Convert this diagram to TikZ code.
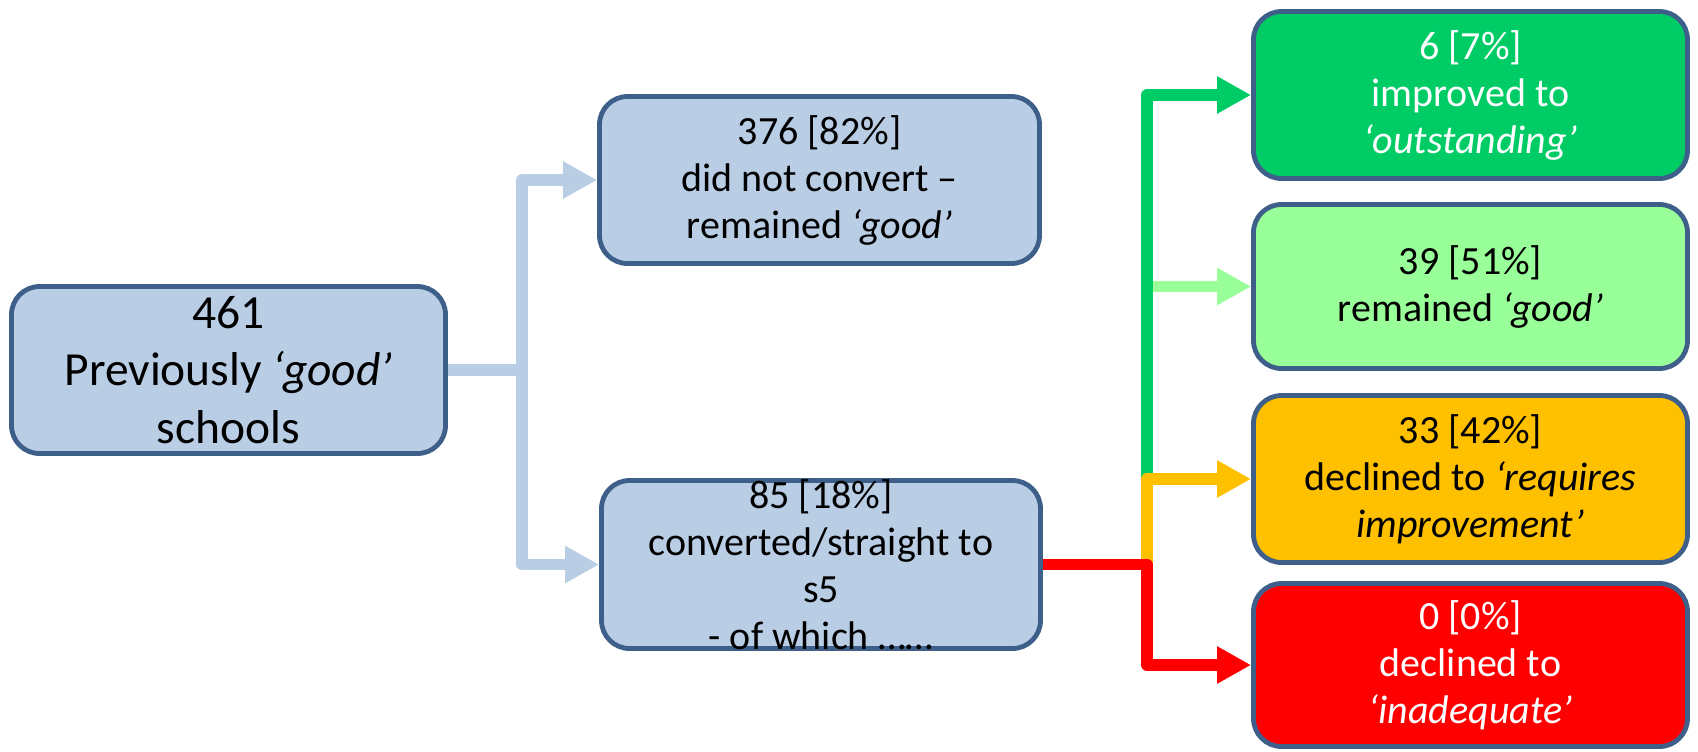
\documentclass[tikz,border=0pt]{standalone}
\usepackage{fontspec}
\setmainfont{Carlito}
\usetikzlibrary{arrows.meta}
\definecolor{bfill}{HTML}{B9CDE5}
\definecolor{bdraw}{HTML}{3E5F8A}
\definecolor{dgreen}{HTML}{00CC66}
\definecolor{lgreen}{HTML}{99FF99}
\definecolor{amber}{HTML}{FFC000}
\definecolor{rred}{HTML}{FF0000}
\begin{document}
\begin{tikzpicture}[x=0.5pt,y=-0.5pt,
  box/.style={draw=bdraw, line width=2.4pt, rounded corners=14pt, minimum width=217pt, minimum height=83.5pt, inner sep=0pt},
  txt/.style={align=center, font=\fontsize{20pt}{23.5pt}\selectfont, inner sep=0pt},
  bigtxt/.style={align=center, font=\fontsize{23.75pt}{28.75pt}\selectfont, inner sep=0pt},
  wire/.style={line width=5.75pt, line join=round},
  conn/.style={wire, -{Triangle[length=17pt,width=17.5pt]}}]
\useasboundingbox (0,0) rectangle (1698,751);

% boxes
\node[box, fill=bfill] (a) at (228.5,370) {};
\node[box, fill=bfill, minimum width=220pt] (b1) at (819.5,180) {};
\node[box, fill=bfill, minimum width=219.5pt, minimum height=84pt] (b2) at (821,564.5) {};
\node[box, fill=dgreen] (c1) at (1470.5,95) {};
\node[box, fill=lgreen, minimum height=82pt] (c2) at (1470.5,286.5) {};
\node[box, fill=amber] (c3) at (1470.5,479) {};
\node[box, fill=rred, minimum height=81.5pt] (c4) at (1470.5,665) {};

% texts
\node[bigtxt] (ta) at (a.center) {461\\Previously \textit{‘good’}\\schools};
\node[txt] (tb1) at (b1.center) {376 [82\%]\\did not convert –\\remained \textit{‘good’}};
\node[txt] (tb2) at (b2.center) {85 [18\%]\\converted/straight to\\s5\\- of which ……};
\node[txt, text=white] (tc1) at (c1.center) {6 [7\%]\\improved to\\\textit{‘outstanding’}};
\node[txt] (tc2) at (c2.center) {39 [51\%]\\remained \textit{‘good’}};
\node[txt] (tc3) at (c3.center) {33 [42\%]\\declined to \textit{‘requires}\\\textit{improvement’}};
\node[txt, text=white] (tc4) at (c4.center) {0 [0\%]\\declined to\\\textit{‘inadequate’}};

% connectors from a
\coordinate (t1) at (522,370);
\draw[wire, bfill] (a.east) -- (t1);
\draw[conn, bfill] (t1) |- (b1.west);
\draw[conn, bfill] (t1) |- (b2.west);

% connectors from b2
\coordinate (tx) at (1147,0);
\coordinate (j1) at (b2.east -| tx);
\coordinate (j2) at (c3.west -| tx);
\draw[conn, lgreen] (c2.west -| tx) -- (c2.west);
\draw[conn, dgreen] (j2) |- (c1.west);
\draw[conn, amber] (j1) |- (c3.west);
\draw[conn, rred] (b2.east) -- (j1) |- (c4.west);
\end{tikzpicture}
\end{document}
